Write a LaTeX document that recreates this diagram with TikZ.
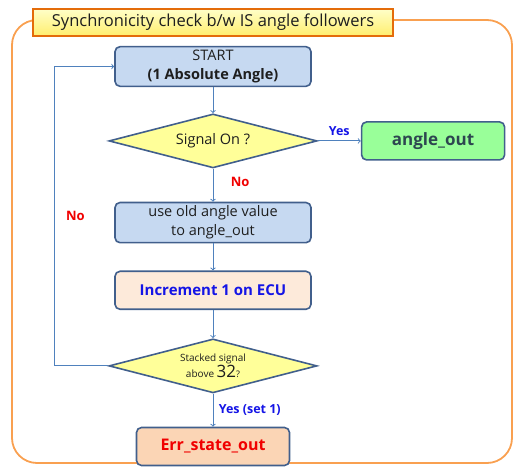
\documentclass[tikz,border=0pt]{standalone}
\usepackage{fontspec}
\setmainfont{Open Sans}
\usepackage{xcolor}
\usetikzlibrary{positioning,shapes.geometric,arrows}

\definecolor{boxline}{RGB}{65,95,140}
\definecolor{startfill}{RGB}{198,217,241}
\definecolor{diafill}{RGB}{255,255,153}
\definecolor{outfill}{RGB}{153,255,153}
\definecolor{incfill}{RGB}{253,234,218}
\definecolor{errfill}{RGB}{251,213,181}
\definecolor{arrowblue}{RGB}{79,129,189}
\definecolor{frameorange}{RGB}{249,160,80}
\definecolor{titleline}{RGB}{228,108,10}
\definecolor{titletop}{RGB}{255,255,200}
\definecolor{titlebot}{RGB}{255,238,110}
\definecolor{txtgray}{RGB}{30,30,30}
\definecolor{labblue}{RGB}{20,20,230}
\definecolor{labred}{RGB}{240,0,0}

\begin{document}
\begin{tikzpicture}[
    x=1pt, y=-1pt,
    box/.style={rectangle, draw=boxline, line width=1.6pt, rounded corners=5pt, minimum width=196pt, minimum height=38pt, align=center, text=txtgray, font=\fontsize{14.5}{19}\selectfont},
    decision/.style={diamond, aspect=3.85, draw=boxline, line width=1.6pt, fill=diafill, minimum width=208pt, minimum height=54pt, inner sep=0pt, align=center, text=txtgray},
    line/.style={draw=arrowblue, line width=1pt, ->},
    yeslab/.style={text=labblue, font=\fontsize{12.5}{15}\selectfont\bfseries},
    nolab/.style={text=labred, font=\fontsize{13}{15}\selectfont\bfseries}
]
\useasboundingbox (0,0) rectangle (514,466);

% Frame and title
\draw[frameorange, line width=1.8pt, rounded corners=25pt] (12,20) rectangle (512,463);
\node[draw=titleline, line width=1.6pt, top color=titletop, bottom color=titlebot, minimum width=360pt, minimum height=27pt, inner sep=0pt, font=\fontsize{16.5}{18}\selectfont, text=txtgray] (title) at (213,22.5) {Synchronicity check b/w IS angle followers};

% Nodes
\node[box, fill=startfill, minimum height=39pt] (start) at (213,66.5) {START\\\textbf{(1 Absolute Angle)}};
\node[decision, below=26pt of start, font=\fontsize{14.5}{17}\selectfont] (sig) {Signal On ?};
\node[box, fill=outfill, minimum width=143pt, right=43pt of sig, font=\fontsize{17}{19}\selectfont\bfseries, text={rgb,255:red,45;green,70;blue,80}] (angleout) {angle\_out};
\node[box, fill=startfill, below=33pt of sig] (useold) {use old angle value\\to angle\_out};
\node[box, fill=incfill, below=27pt of useold, text=labblue, font=\fontsize{15}{17}\selectfont\bfseries] (incr) {Increment 1 on ECU};
\node[decision, below=28pt of incr] (check) {{\fontsize{10}{15}\selectfont Stacked signal}\\{\fontsize{10}{14}\selectfont above }{\fontsize{17}{17}\selectfont 32}{\fontsize{9}{10}\selectfont ?}};
\node[box, fill=errfill, minimum width=153pt, below=33pt of check, text=labred, font=\fontsize{16}{18}\selectfont\bfseries] (err) {Err\_state\_out};

% Paths
\draw[line] (start) -- (sig);
\draw[line] (sig) -- node[above=1pt, yeslab] {Yes} (angleout);
\draw[line] (sig) -- node[right=14pt, pos=0.4, nolab] {No} (useold);
\draw[line] (useold) -- (incr);
\draw[line] (incr) -- (check);
\draw[line] (check) -- node[right=2pt, yeslab] {Yes (set 1)} (err);
\draw[line] (check.west) -- ++(-54,0) |- node[pos=0.25, right=8pt, nolab] {No} (start.west);

\end{tikzpicture}
\end{document}
